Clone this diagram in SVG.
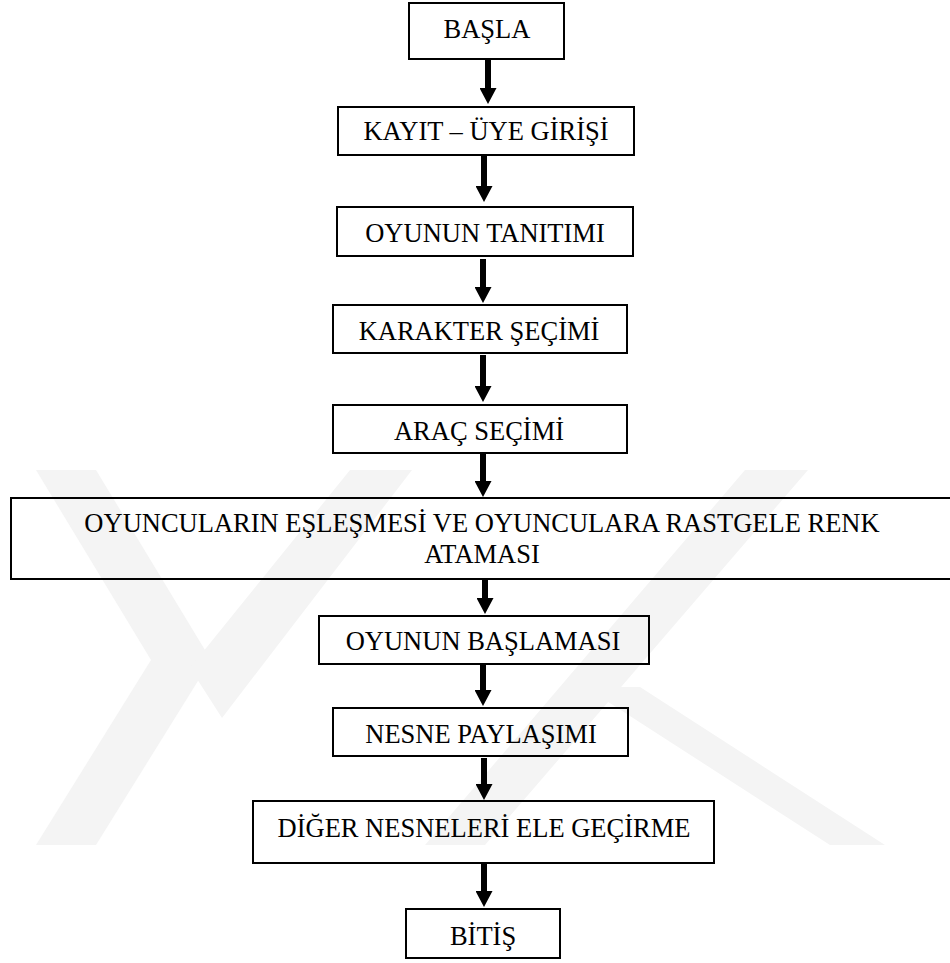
<svg xmlns="http://www.w3.org/2000/svg" width="950" height="963" viewBox="0 0 950 963">
  <style>
    .box { fill: none; stroke: #000; stroke-width: 2; }
    .lbl { font-family: "Liberation Serif", "Times New Roman", serif; font-size: 26.5px; fill: #000; text-anchor: middle; }
    .conn { stroke: #000; stroke-width: 6; fill: none; marker-end: url(#arrow); }
    .wm { fill: #f4f4f4; }
  </style>
  <defs>
    <marker id="arrow" markerUnits="userSpaceOnUse" viewBox="0 0 16 17" markerWidth="16" markerHeight="17" refX="1" refY="8.5" orient="auto">
      <path d="M0,0 L16,8.5 L0,17 Z" fill="#000"/>
    </marker>
  </defs>
  <rect x="0" y="0" width="950" height="963" fill="#fff"/>
  <g id="watermark">
    <polygon class="wm" points="36,470 96,470 211,660 96,845 36,845 151,660"/>
    <polygon class="wm" points="350,470 412,470 222,718 190,668"/>
    <polygon class="wm" points="745,470 808,470 485,845 425,845"/>
    <polygon class="wm" points="585,687 640,687 885,845 830,845"/>
  </g>
  <g id="connectors">
    <line class="conn" x1="488" y1="59" x2="488" y2="89"/>
    <line class="conn" x1="484" y1="156" x2="484" y2="187"/>
    <line class="conn" x1="483" y1="259" x2="483" y2="288"/>
    <line class="conn" x1="483" y1="355" x2="483" y2="387"/>
    <line class="conn" x1="483" y1="454" x2="483" y2="482"/>
    <line class="conn" x1="485" y1="580" x2="485" y2="599"/>
    <line class="conn" x1="483" y1="665" x2="483" y2="691"/>
    <line class="conn" x1="484" y1="758" x2="484" y2="785"/>
    <line class="conn" x1="484" y1="864" x2="484" y2="892"/>
  </g>
  <g id="n1"><rect class="box" x="409" y="3" width="155" height="56"/><text class="lbl" x="487" y="38">BAŞLA</text></g>
  <g id="n2"><rect class="box" x="338" y="107" width="296" height="48"/><text class="lbl" x="486" y="140">KAYIT – ÜYE GİRİŞİ</text></g>
  <g id="n3"><rect class="box" x="337" y="207" width="296" height="49"/><text class="lbl" x="485" y="242">OYUNUN TANITIMI</text></g>
  <g id="n4"><rect class="box" x="333" y="305" width="294" height="48"/><text class="lbl" x="479" y="340">KARAKTER ŞEÇİMİ</text></g>
  <g id="n5"><rect class="box" x="333" y="405" width="294" height="48"/><text class="lbl" x="479" y="440">ARAÇ SEÇİMİ</text></g>
  <g id="n6"><rect class="box" x="11" y="498" width="960" height="81"/><text class="lbl" x="482" y="532">OYUNCULARIN EŞLEŞMESİ VE OYUNCULARA RASTGELE RENK</text><text class="lbl" x="482" y="563">ATAMASI</text></g>
  <g id="n7"><rect class="box" x="319" y="616" width="330" height="48"/><text class="lbl" x="483" y="650">OYUNUN BAŞLAMASI</text></g>
  <g id="n8"><rect class="box" x="333" y="708" width="295" height="48"/><text class="lbl" x="481" y="743">NESNE PAYLAŞIMI</text></g>
  <g id="n9"><rect class="box" x="253" y="801" width="461" height="62"/><text class="lbl" x="484" y="837">DİĞER NESNELERİ ELE GEÇİRME</text></g>
  <g id="n10"><rect class="box" x="406" y="909" width="154" height="49"/><text class="lbl" x="483" y="945">BİTİŞ</text></g>
</svg>
